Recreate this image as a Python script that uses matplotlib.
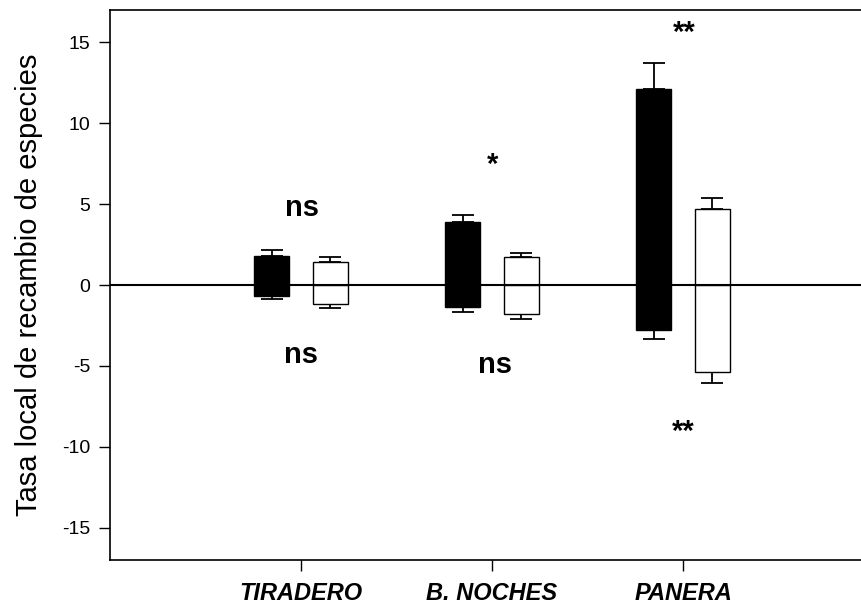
import numpy as np
import matplotlib
matplotlib.use('Agg')
import matplotlib.pyplot as plt

plt.rcParams['font.family'] = ['Liberation Sans', 'DejaVu Sans']
plt.rcParams['axes.unicode_minus'] = False

# data
sites = ['TIRADERO', 'B. NOCHES', 'PANERA']
black_pos = [1.8, 3.9, 12.1]
black_pos_err = [0.35, 0.45, 1.65]
black_neg = [-0.7, -1.35, -2.8]
black_neg_err = [0.15, 0.3, 0.55]
white_pos = [1.45, 1.75, 4.7]
white_pos_err = [0.3, 0.25, 0.65]
white_neg = [-1.2, -1.8, -5.35]
white_neg_err = [0.2, 0.3, 0.7]

# significance marks above and below each site
marks_top = ['ns', '*', '**']
marks_top_y = [4.25, 6.95, 15.1]
marks_bot = ['ns', 'ns', '**']
marks_bot_y = [-4.8, -5.45, -9.6]

x = np.arange(1, len(sites) + 1)
w = 0.183
off = 0.152

fig = plt.figure(figsize=(8.61, 6.07), dpi=100)
ax = fig.add_axes([110/861, 47/607, 764/861, 550/607])

lw = 1.0
ax.bar(x - off, black_pos, w, color='black', edgecolor='black', linewidth=lw, zorder=2)
ax.bar(x - off, black_neg, w, color='black', edgecolor='black', linewidth=lw, zorder=2)
ax.bar(x + off, white_pos, w, color='white', edgecolor='black', linewidth=lw, zorder=2)
ax.bar(x + off, white_neg, w, color='white', edgecolor='black', linewidth=lw, zorder=2)

ek = dict(fmt='none', ecolor='black', elinewidth=1.3, capsize=8, capthick=1.3, zorder=1)
ax.errorbar(x - off, black_pos, yerr=[np.zeros(3), black_pos_err], **ek)
ax.errorbar(x - off, black_neg, yerr=[black_neg_err, np.zeros(3)], **ek)
ax.errorbar(x + off, white_pos, yerr=[np.zeros(3), white_pos_err], **ek)
ax.errorbar(x + off, white_neg, yerr=[white_neg_err, np.zeros(3)], **ek)

ax.axhline(0, color='black', linewidth=1.5, zorder=3)

for i in range(len(sites)):
    ax.text(x[i] + 0.005, marks_top_y[i], marks_top[i], ha='center', va='baseline',
            fontsize=21, fontweight='bold')
    ax.text(x[i] + (0.016 if i == 1 else 0.0), marks_bot_y[i], marks_bot[i], ha='center',
            va='baseline', fontsize=21, fontweight='bold')

ax.set_xlim(0, 4)
ax.set_ylim(-17, 17)
ax.set_yticks(np.arange(-15, 16, 5))
ax.set_xticks(x)
ax.set_xticklabels(sites, fontsize=17, fontweight='bold', fontstyle='italic')
ax.tick_params(axis='y', labelsize=14, length=8, width=1, pad=6)
ax.tick_params(axis='x', length=8, width=1, pad=8)
ax.set_ylabel('Tasa local de recambio de especies', fontsize=21, labelpad=14)

for s in ax.spines.values():
    s.set_linewidth(1.2)

fig.savefig('out.png', dpi=100)
